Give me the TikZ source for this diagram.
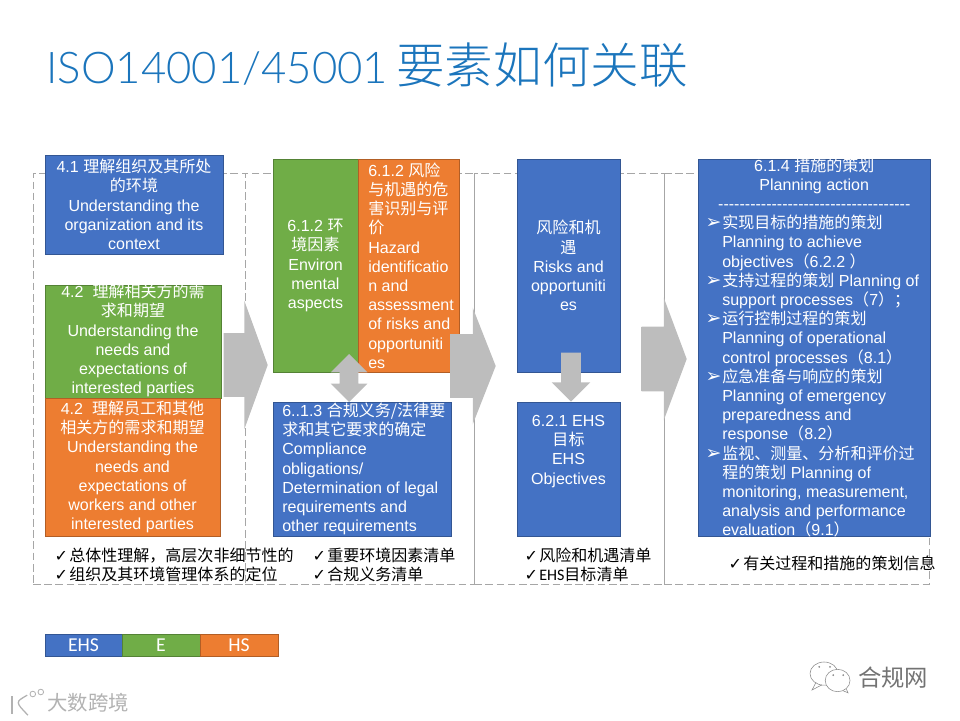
\documentclass[tikz,border=0pt]{standalone}
\usepackage{fontspec}
\usetikzlibrary{shapes.arrows}
\setmainfont{Liberation Sans}
\newfontfamily\cjk{Noto Sans CJK SC}
\newfontfamily\titlecjk{Noto Sans CJK SC}[UprightFont=* Light]
\newfontfamily\narrowfont{Carlito}
\newfontfamily\titlefont{Lato}[UprightFont=* Light]
\newfontfamily\tickfont{DejaVu Sans}
\newcommand{\zh}[1]{{\cjk #1}}
\newcommand{\tick}{\llap{{\tickfont\char"2713}\hspace{0.03cm}}}
\newcommand{\planhead}[1]{\makebox[5.3cm][c]{#1}}
\newcommand{\planline}[1]{\hspace*{0.35cm}#1}
\newcommand{\planitem}[1]{\hspace*{0.35cm}\llap{{\tickfont\fontsize{13.5}{13.66}\selectfont\char"27A2}\hspace{0.02cm}}#1}
\lineskiplimit=-20pt
\definecolor{ehsblue}{HTML}{4472C4}
\definecolor{egreen}{HTML}{70AD47}
\definecolor{hsorange}{HTML}{ED7D31}
\definecolor{titleblue}{HTML}{1B75BC}
\definecolor{framegray}{HTML}{A6A6A6}
\tikzset{
    boxtext/.style={font=\fontsize{11.4}{13.66}\selectfont, text=white, inner sep=0pt, align=center},
    ehsbox/.style={boxtext, fill=ehsblue, draw=ehsblue!75!black, line width=0.4pt},
    ebox/.style={boxtext, fill=egreen, draw=egreen!75!black, line width=0.4pt},
    hsbox/.style={boxtext, fill=hsorange, draw=hsorange!75!black, line width=0.4pt},
    framebox/.style={draw=framegray, dash pattern=on 5.5pt off 2.5pt, line width=0.5pt, inner sep=0pt},
    outlist/.style={font=\fontsize{11.4}{13.66}\selectfont, inner sep=0pt, align=left, anchor=west},
    legend/.style={font=\narrowfont\fontsize{14}{16}\selectfont},
    arrowfill/.style={draw=none, top color=black!26, middle color=black!16, bottom color=black!26},
    flowarrow/.style={single arrow, single arrow head indent=0pt, inner xsep=0pt, anchor=tip, arrowfill},
    watermark/.style={inner sep=0pt, text=black!30},
}
\begin{document}
\begin{tikzpicture}
    \useasboundingbox (0,0) rectangle (24,18);

    % Titel
    \node[anchor=west, inner sep=0pt, text=titleblue, font=\fontsize{31.1}{40}\selectfont] (title) at (1.15,16.38) {\titlefont ISO14001/45001\hspace{0.2cm}{\titlecjk\fontsize{34.6}{40}\selectfont 要素如何关联}};

    % Rahmen
    \node[framebox, minimum width=5.3cm, minimum height=10.275cm] (contextframe) at (3.475,8.5375) {};
    \node[framebox, minimum width=5.725cm, minimum height=10.275cm] (aspectframe) at (8.9875,8.5375) {};
    \node[framebox, minimum width=4.75cm, minimum height=10.275cm] (riskframe) at (14.225,8.5375) {};
    \node[framebox, minimum width=6.625cm, minimum height=10.275cm] (actionframe) at (19.9125,8.5375) {};

    % Kontext
    \node[ehsbox, minimum width=4.45cm, minimum height=2.475cm] (context) at (3.35,12.8875) {4.1 \zh{理解组织及其所处}\\\zh{的环境}\\Understanding the\\organization and its\\context};
    \node[ebox, minimum width=4.4cm, minimum height=2.825cm] (parties) at (3.325,9.4625) {};
    \node[boxtext] (partiestext) at (3.325,9.4875) {4.2 \ \zh{理解相关方的需}\\\zh{求和期望}\\Understanding the\\needs and\\expectations of\\interested parties};
    \node[hsbox, minimum width=4.375cm, minimum height=3.45cm] (workers) at (3.3125,6.325) {4.2 \ \zh{理解员工和其他}\\\zh{相关方的需求和期望}\\Understanding the\\needs and\\expectations of\\workers and other\\interested parties};

    % Aspekte
    \node[ebox, minimum width=2.125cm, minimum height=5.325cm] (aspects) at (7.8875,11.3625) {6.1.2 \zh{环}\\\zh{境因素}\\Environ\\mental\\aspects};
    \node[hsbox, minimum width=2.525cm, minimum height=5.325cm] (hazard) at (10.2125,11.3625) {};
    \node[boxtext, align=left, anchor=west] (hazardtext) at (9.2,11.3625) {6.1.2 \zh{风险}\\\zh{与机遇的危}\\\zh{害识别与评}\\\zh{价}\\Hazard\\identificatio\\n and\\assessment\\of risks and\\opportuniti\\es};
    \node[ehsbox, minimum width=4.45cm, minimum height=3.35cm] (compliance) at (9.05,6.275) {};
    \node[boxtext, align=left, anchor=west] (compliancetext) at (7.05,6.275) {6..1.3 \zh{合规义务/法律要}\\\zh{求和其它要求的确定}\\Compliance\\obligations/\\Determination of legal\\requirements and\\other requirements};

    % Risiken
    \node[ehsbox, minimum width=2.575cm, minimum height=5.325cm] (risks) at (14.2125,11.3625) {\zh{风险和机}\\\zh{遇}\\Risks and\\opportuniti\\es};
    \node[ehsbox, minimum width=2.575cm, minimum height=3.35cm] (objectives) at (14.2125,6.275) {6.2.1 EHS\\\zh{目标}\\EHS\\Objectives\\~\\~};

    % Massnahmen
    \node[ehsbox, minimum width=5.8cm, minimum height=9.425cm] (action) at (20.35,9.3125) {};
    \node[boxtext, align=left, anchor=west] (actiontext) at (17.7,9.3125) {\planhead{6.1.4 \zh{措施的策划}}\\
        \planhead{Planning action}\\
        \planhead{\foreach \i in {1,...,36}{-}}\\
        \planitem{\zh{实现目标的措施的策划}}\\
        \planline{Planning to achieve}\\
        \planline{objectives\zh{（}6.2.2 \zh{）}}\\
        \planitem{\zh{支持过程的策划} Planning of}\\
        \planline{support processes\zh{（}7\zh{）；}}\\
        \planitem{\zh{运行控制过程的策划}}\\
        \planline{Planning of operational}\\
        \planline{control processes\zh{（}8.1\zh{）}}\\
        \planitem{\zh{应急准备与响应的策划}}\\
        \planline{Planning of emergency}\\
        \planline{preparedness and}\\
        \planline{response\zh{（}8.2\zh{）}}\\
        \planitem{\zh{监视、测量、分析和评价过}}\\
        \planline{\zh{程的策划} Planning of}\\
        \planline{monitoring, measurement,}\\
        \planline{analysis and performance}\\
        \planline{evaluation\zh{（}9.1\zh{）}}};

    % Blockpfeile
    \node[flowarrow, minimum height=1.1cm, inner ysep=0.7875cm, single arrow head extend=0.8cm, single arrow tip angle=140] (contextarrow) at (6.7,8.875) {};
    \node[flowarrow, minimum height=1.125cm, inner ysep=0.7875cm, single arrow head extend=0.6625cm, single arrow tip angle=137] (aspectarrow) at (12.4,8.85) {};
    \node[flowarrow, minimum height=1.125cm, inner ysep=0.8cm, single arrow head extend=0.725cm, single arrow tip angle=139] (riskarrow) at (17.175,9.025) {};
    \node[flowarrow, shape border rotate=270, minimum height=1.225cm, inner xsep=0.2375cm, inner ysep=0pt, single arrow head extend=0.2375cm, single arrow tip angle=90] (riskdown) at (14.275,7.95) {};
    \node[double arrow, double arrow head indent=0pt, shape border rotate=90, arrowfill, minimum height=1.2cm, inner xsep=0.225cm, inner ysep=0pt, double arrow head extend=0.225cm, double arrow tip angle=90] (aspectlink) at (8.725,8.55) {};

    % Ergebnisse
    \node[outlist] (contextlist) at (1.725,3.875) {\tick\zh{总体性理解，高层次非细节性的}\\\tick\zh{组织及其环境管理体系的定位}};
    \node[outlist] (aspectlist) at (8.175,3.875) {\tick\zh{重要环境因素清单}\\\tick\zh{合规义务清单}};
    \node[outlist] (risklist) at (13.475,3.875) {\tick\zh{风险和机遇清单}\\\tick{\narrowfont EHS}\zh{目标清单}};
    \node[outlist] (actionlist) at (18.575,3.925) {\tick\zh{有关过程和措施的策划信息}};

    % Legende
    \node[ehsbox, legend, minimum width=1.925cm, minimum height=0.55cm] (legendehs) at (2.0875,1.875) {EHS};
    \node[ebox, legend, minimum width=1.95cm, minimum height=0.55cm] (legende) at (4.025,1.875) {E};
    \node[hsbox, legend, minimum width=1.95cm, minimum height=0.55cm] (legendhs) at (5.975,1.875) {HS};

    % Wasserzeichen links
    \node[watermark, font=\cjk\fontsize{14.5}{16}\selectfont, anchor=west] (sitemark) at (1.175,0.42) {大数跨境};
    \draw[black!30, line width=0.9pt] (0.3,0.6) -- (0.3,0.15);
    \draw[black!30, line width=0.9pt] (0.68,0.62) .. controls (0.38,0.45) .. (0.7,0.12);
    \draw[black!30, line width=0.6pt] (0.82,0.65) circle (0.07cm);
    \draw[black!30, line width=0.6pt] (1.02,0.7) circle (0.07cm);

    % Wasserzeichen rechts
    \node[watermark, font=\cjk\fontsize{16.6}{18}\selectfont, anchor=west, text=black!55] (accountmark) at (21.45,1.05) {合规网};
    \draw[black!45, line width=0.4pt] (20.6,1.16) ellipse (0.35cm and 0.29cm);
    \draw[black!45, line width=0.4pt] (20.4,0.94) -- (20.3,0.75) -- (20.55,0.88);
    \draw[black!45, fill=white, line width=0.4pt] (20.94,0.9875) ellipse (0.31cm and 0.28cm);
    \draw[black!45, line width=0.4pt] (21.08,0.73) -- (21.2,0.68) -- (21.16,0.77);
    \foreach \dotx/\doty in {20.48/1.33, 20.75/1.33, 20.83/1.12, 21.08/1.12}
        \fill[black!45] (\dotx,\doty) circle (0.025cm);
\end{tikzpicture}
\end{document}
